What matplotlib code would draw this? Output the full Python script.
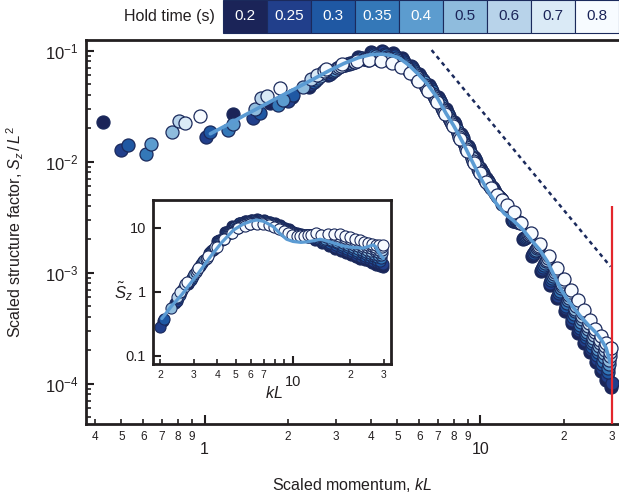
import numpy as np
import matplotlib
matplotlib.use("Agg")
import matplotlib.pyplot as plt
from matplotlib.patches import Rectangle
from matplotlib.ticker import FixedLocator, FixedFormatter, LogLocator, NullFormatter, NullLocator

plt.rcParams.update({
    "font.family": ["Liberation Sans", "DejaVu Sans"],
    "mathtext.fontset": "custom",
    "mathtext.rm": "Liberation Sans",
    "mathtext.it": "Liberation Sans:italic",
    "mathtext.bf": "Liberation Sans:bold",
})

INK = "#231f20"
NAVY = "#1b2a5c"
CURVE = "#5b9bd3"
RED = "#e3262c"

# ---- hold times and their colours ----
hold_times = ["0.2", "0.25", "0.3", "0.35", "0.4", "0.5", "0.6", "0.7", "0.8"]
hold_colors = ["#1b2458", "#213f8b", "#1f58a3", "#3478b8", "#5c9ccf",
               "#8fbcdd", "#b8d3ea", "#daeaf6", "#f7fbff"]
hold_text_colors = ["#ffffff", "#ffffff", "#ffffff", "#ffffff", "#ffffff",
                    "#1b2458", "#1b2458", "#1b2458", "#1b2458"]

# ---- measured structure factor S_z / L^2 versus kL, one pair per hold time ----
kl_020 = [0.427, 1.27, 1.73, 2.08, 2.4, 2.8, 3.2, 3.6, 4.0, 4.4, 4.8, 5.2, 5.6,
          6.0, 6.5, 7.0, 7.5, 8.0, 8.5, 9.0, 9.5, 10.0, 10.5, 11.0, 11.5, 12.0,
          13.0, 14.2, 15.4, 16.6, 17.8, 19.0, 20.2, 21.4, 22.6, 23.8, 25.0, 26.2, 27.4, 28.6, 29.8]
sz_020 = [0.0229, 0.0268, 0.0335, 0.0385, 0.0473, 0.0603, 0.0741, 0.0871, 0.0977, 0.100, 0.0955, 0.0851, 0.0733,
          0.0617, 0.0490, 0.0380, 0.0295, 0.0229, 0.0178, 0.0138, 0.0110, 0.00871, 0.00708, 0.00589, 0.00490, 0.00417,
          0.00295, 0.00200, 0.00142, 0.00103, 0.000776, 0.000589, 0.000449, 0.000353, 0.000283, 0.000231,
          0.000191, 0.000157, 0.000129, 0.000108, 0.0000933]

kl_025 = [0.50, 1.01, 1.50, 2.0, 2.44, 2.84, 3.24, 3.64, 4.04, 4.44, 4.84, 5.24, 5.64,
          6.06, 6.56, 7.06, 7.56, 8.06, 8.56, 9.06, 9.56, 10.06, 10.56, 11.06, 11.56, 12.06,
          13.13, 14.33, 15.53, 16.73, 17.93, 19.13, 20.33, 21.53, 22.73, 23.93, 25.13, 26.33, 27.53, 28.73, 29.9]
sz_025 = [0.0127, 0.0167, 0.0245, 0.035, 0.0495, 0.0619, 0.0748, 0.0865, 0.0953, 0.0968, 0.0920, 0.0818, 0.0705,
          0.0589, 0.0468, 0.0364, 0.0282, 0.0219, 0.0170, 0.0132, 0.0105, 0.00841, 0.00689, 0.00578, 0.00485, 0.00415,
          0.00293, 0.00203, 0.00146, 0.00107, 0.000811, 0.000619, 0.000475, 0.000374, 0.000301, 0.000245,
          0.000203, 0.000168, 0.000139, 0.000117, 0.000102]

kl_030 = [0.529, 1.05, 1.585, 2.10, 2.49, 2.89, 3.29, 3.69, 4.09, 4.49, 4.89, 5.29, 5.69,
          6.11, 6.61, 7.11, 7.61, 8.11, 8.61, 9.11, 9.61, 10.11, 10.61, 11.11, 11.61, 12.11,
          13.27, 14.47, 15.67, 16.87, 18.07, 19.27, 20.47, 21.67, 22.87, 24.07, 25.27, 26.47, 27.67, 28.87]
sz_030 = [0.0141, 0.0186, 0.0272, 0.0398, 0.0519, 0.0637, 0.0755, 0.0857, 0.0929, 0.0938, 0.0887, 0.0789, 0.0678,
          0.0564, 0.0449, 0.0348, 0.0270, 0.0209, 0.0163, 0.0127, 0.0101, 0.00813, 0.00671, 0.00566, 0.00481, 0.00414,
          0.00291, 0.00206, 0.00151, 0.00112, 0.000849, 0.000650, 0.000502, 0.000397, 0.000319, 0.000261,
          0.000215, 0.000179, 0.000150, 0.000127]

kl_035 = [0.614, 1.22, 1.85, 2.53, 2.93, 3.33, 3.73, 4.13, 4.53, 4.93, 5.33, 5.73,
          6.17, 6.67, 7.17, 7.67, 8.17, 8.67, 9.17, 9.67, 10.17, 10.67, 11.17, 11.67, 12.17,
          13.4, 14.6, 15.8, 17.0, 18.2, 19.4, 20.6, 21.8, 23.0, 24.2, 25.4, 26.6, 27.8, 29.0]
sz_035 = [0.0117, 0.0192, 0.0323, 0.0543, 0.0655, 0.0762, 0.0851, 0.0906, 0.0908, 0.0855, 0.0759, 0.0650,
          0.0540, 0.0429, 0.0334, 0.0258, 0.0200, 0.0155, 0.0121, 0.00968, 0.00785, 0.00653, 0.00556, 0.00475, 0.00412,
          0.00289, 0.00209, 0.00155, 0.00116, 0.000889, 0.000684, 0.000531, 0.000422, 0.000339, 0.000277,
          0.000230, 0.000191, 0.000161, 0.000138]

kl_040 = [0.638, 1.27, 1.93, 2.58, 2.98, 3.38, 3.78, 4.18, 4.58, 4.98, 5.38, 5.78,
          6.22, 6.72, 7.22, 7.72, 8.22, 8.72, 9.22, 9.72, 10.22, 10.72, 11.22, 11.72, 12.22,
          13.53, 14.73, 15.93, 17.13, 18.33, 19.53, 20.73, 21.93, 23.13, 24.33, 25.53, 26.73, 27.93, 29.13]
sz_040 = [0.0144, 0.0216, 0.0362, 0.0569, 0.0673, 0.0769, 0.0845, 0.0885, 0.0879, 0.0822, 0.0730, 0.0625,
          0.0516, 0.0410, 0.0320, 0.0247, 0.0191, 0.0148, 0.0116, 0.00929, 0.00757, 0.00637, 0.00545, 0.00471, 0.00410,
          0.00288, 0.00212, 0.00160, 0.00121, 0.000929, 0.000719, 0.000562, 0.000447, 0.000360, 0.000294,
          0.000244, 0.000205, 0.000174, 0.000150]

kl_050 = [0.76, 1.52, 2.28, 2.62, 3.02, 3.42, 3.82, 4.22, 4.62, 5.02, 5.42, 5.82,
          6.28, 6.78, 7.28, 7.78, 8.28, 8.78, 9.28, 9.78, 10.28, 10.78, 11.28, 11.78, 12.28,
          13.67, 14.87, 16.07, 17.27, 18.47, 19.67, 20.87, 22.07, 23.27, 24.47, 25.67, 26.87, 28.07, 29.27]
sz_050 = [0.0186, 0.0300, 0.047, 0.0596, 0.0692, 0.0776, 0.0838, 0.0863, 0.0851, 0.0793, 0.0703, 0.0601,
          0.0493, 0.0393, 0.0306, 0.0236, 0.0182, 0.0142, 0.0111, 0.00891, 0.00731, 0.00619, 0.00535, 0.00467, 0.00409,
          0.00286, 0.00216, 0.00165, 0.00126, 0.000973, 0.000757, 0.000594, 0.000474, 0.000382, 0.000311,
          0.000259, 0.000219, 0.000187, 0.000163]

kl_060 = [0.81, 1.6, 2.44, 2.67, 3.07, 3.47, 3.87, 4.27, 4.67, 5.07, 5.47, 5.87,
          6.33, 6.83, 7.33, 7.83, 8.33, 8.83, 9.33, 9.83, 10.33, 10.83, 11.33, 11.83, 12.33,
          13.8, 15.0, 16.2, 17.4, 18.6, 19.8, 21.0, 22.2, 23.4, 24.6, 25.8, 27.0, 28.2, 29.4]
sz_060 = [0.0232, 0.037, 0.056, 0.0624, 0.0713, 0.0783, 0.0832, 0.0841, 0.0824, 0.0764, 0.0676, 0.0578,
          0.0472, 0.0376, 0.0293, 0.0226, 0.0175, 0.0136, 0.0107, 0.00855, 0.00706, 0.00604, 0.00524, 0.00462, 0.00407,
          0.00284, 0.00219, 0.00170, 0.00131, 0.00102, 0.000794, 0.000628, 0.000502, 0.000406, 0.000330,
          0.000276, 0.000233, 0.000201, 0.000176]

kl_070 = [0.85, 1.69, 2.55, 2.71, 3.11, 3.51, 3.91, 4.31, 4.71, 5.11, 5.51, 5.91,
          6.39, 6.89, 7.39, 7.89, 8.39, 8.89, 9.39, 9.89, 10.39, 10.89, 11.39, 11.89, 12.39,
          13.93, 15.13, 16.33, 17.53, 18.73, 19.93, 21.13, 22.33, 23.53, 24.73, 25.93, 27.13, 28.33, 29.53]
sz_070 = [0.0221, 0.0389, 0.060, 0.0653, 0.0733, 0.0791, 0.0826, 0.0820, 0.0798, 0.0736, 0.0650, 0.0556,
          0.0452, 0.0360, 0.0281, 0.0216, 0.0167, 0.0129, 0.0102, 0.00820, 0.00682, 0.00588, 0.00514, 0.00458, 0.00406,
          0.00282, 0.00222, 0.00175, 0.00136, 0.00106, 0.000836, 0.000665, 0.000533, 0.000431, 0.000351,
          0.000294, 0.000249, 0.000217, 0.000191]

kl_080 = [0.96, 1.88, 2.76, 3.16, 3.56, 3.96, 4.36, 4.76, 5.16, 5.56, 5.96,
          6.44, 6.94, 7.44, 7.94, 8.44, 8.94, 9.44, 9.94, 10.44, 10.94, 11.44, 11.94, 12.44,
          13.25, 14.07, 15.27, 16.47, 17.67, 18.87, 20.07, 21.27, 22.47, 23.67, 24.87, 26.07, 27.27, 28.47, 29.67]
sz_080 = [0.0259, 0.046, 0.0684, 0.0753, 0.0800, 0.0818, 0.0802, 0.0773, 0.0710, 0.0627, 0.0533,
          0.0433, 0.0344, 0.0269, 0.0207, 0.0159, 0.0124, 0.00980, 0.00787, 0.00659, 0.00573, 0.00504, 0.00454, 0.00405,
          0.00352, 0.00280, 0.00226, 0.00181, 0.00142, 0.00111, 0.000879, 0.000703, 0.000566, 0.000457, 0.000372,
          0.000313, 0.000267, 0.000233, 0.000207]

series = [(kl_020, sz_020), (kl_025, sz_025), (kl_030, sz_030), (kl_035, sz_035), (kl_040, sz_040),
          (kl_050, sz_050), (kl_060, sz_060), (kl_070, sz_070), (kl_080, sz_080)]

# ---- theory curve, main panel ----
theory_kl = [1.05, 1.2, 1.4, 1.6, 1.8, 2.0, 2.4, 2.8, 3.2, 3.6, 4.0, 4.4, 4.8, 5.1, 5.5, 6.0, 6.4,
             7.0, 7.5, 8.0, 8.66, 9.3, 9.95, 10.6, 11.4, 12.2, 13.1, 14.3, 15.3, 16.4, 17.5, 18.8,
             19.6, 20.4, 21.5, 22.9, 24.5, 26.3, 27.5, 28.5, 29.0, 29.5]
theory_sz = [0.0178, 0.0212, 0.0262, 0.0312, 0.0365, 0.0418, 0.0530, 0.0650, 0.0765, 0.0860, 0.0920, 0.0930,
             0.0900, 0.0850, 0.0740, 0.0600, 0.0505, 0.0370, 0.0272, 0.0210, 0.0146, 0.0102, 0.0073, 0.0055,
             0.0042, 0.0034, 0.00297, 0.00241, 0.00195, 0.00160, 0.00125, 0.00086, 0.00070, 0.00060, 0.00050,
             0.00041, 0.00034, 0.000285, 0.000245, 0.000210, 0.000180, 0.000155]

# ---- theory curve, compensated (inset) ----
comp_theory_kl = [2.04, 2.3, 2.6, 2.8, 3.2, 3.67, 4.2, 4.86, 5.5, 6.0, 6.44, 7.0, 7.87, 8.5, 9.26, 10.0,
                  11.0, 11.8, 13.0, 13.9, 14.8, 15.7, 17.5, 19.2, 21.0, 23.4, 25.0, 26.5, 27.3, 28.1, 29.9]
comp_theory_s = [0.38, 0.60, 0.90, 1.2, 2.0, 3.5, 5.8, 9.2, 11.5, 12.6, 13.2, 12.6, 10.4, 8.2, 6.6, 6.1,
                 5.9, 6.0, 6.3, 6.6, 6.3, 6.0, 5.4, 5.04, 4.9, 4.8, 5.1, 5.4, 5.0, 4.2, 3.3]

# ---- k^-3 guide and resolution cutoff ----
guide_kl = [6.65, 29.6]
guide_sz = [0.101, 0.00113]
cutoff_kl = 30.0
cutoff_top = 4.0e-3

# ---- tick positions and labels ----
main_major_x = [1, 10]
main_major_x_labels = ["1", "10"]
main_minor_x = [0.4, 0.5, 0.6, 0.7, 0.8, 0.9, 2, 3, 4, 5, 6, 7, 8, 9, 20, 30]
main_minor_x_labels = ["4", "5", "6", "7", "8", "9", "2", "3", "4", "5", "6", "7", "8", "9", "2", "3"]
main_major_y = [1e-4, 1e-3, 1e-2, 1e-1]
main_major_y_labels = [r"$10^{-4}$", r"$10^{-3}$", r"$10^{-2}$", r"$10^{-1}$"]
inset_major_x = [10]
inset_major_x_labels = ["10"]
inset_minor_x = [2, 3, 4, 5, 6, 7, 8, 9, 20, 30]
inset_minor_x_labels = ["2", "3", "4", "5", "6", "7", "", "", "2", "3"]
inset_major_y = [0.1, 1, 10]
inset_major_y_labels = ["0.1", "1", "10"]

fig = plt.figure(figsize=(6.19, 5.0), dpi=100)

# ================= main panel =================
ax = fig.add_axes([0.1384, 0.152, 0.86, 0.768])
ax.set_xscale("log")
ax.set_yscale("log")
ax.set_xlim(0.371, 31.5)
ax.set_ylim(4.32e-5, 0.1245)

for (kl, sz), col in zip(series, hold_colors):
    ax.plot(kl, sz, linestyle="none", marker="o", markersize=9.4,
            markerfacecolor=col, markeredgecolor=NAVY, markeredgewidth=0.9, zorder=2)

ax.plot(theory_kl, theory_sz, color=CURVE, lw=2.6, solid_capstyle="round", zorder=3)
ax.plot(guide_kl, guide_sz, color=NAVY, lw=1.8, linestyle=(0, (1.6, 1.6)), zorder=3)
ax.vlines(cutoff_kl, 1e-6, cutoff_top, color=RED, lw=1.6, zorder=4)

for side in ["top", "left", "bottom"]:
    ax.spines[side].set_linewidth(2.0)
    ax.spines[side].set_color(INK)
ax.spines["right"].set_visible(False)

ax.xaxis.set_major_locator(FixedLocator(main_major_x))
ax.xaxis.set_major_formatter(FixedFormatter(main_major_x_labels))
ax.xaxis.set_minor_locator(FixedLocator(main_minor_x))
ax.xaxis.set_minor_formatter(FixedFormatter(main_minor_x_labels))
ax.yaxis.set_major_locator(FixedLocator(main_major_y))
ax.yaxis.set_major_formatter(FixedFormatter(main_major_y_labels))
ax.yaxis.set_minor_locator(LogLocator(base=10, subs=np.arange(2, 10)))
ax.yaxis.set_minor_formatter(NullFormatter())

ax.tick_params(axis="x", which="major", direction="in", length=6.5, width=1.5,
               labelsize=11.5, pad=13, colors=INK, top=False)
ax.tick_params(axis="x", which="minor", direction="in", length=3.5, width=1.2,
               labelsize=8.5, pad=5, colors=INK, top=False)
ax.tick_params(axis="y", which="major", direction="in", length=6, width=1.5,
               labelsize=12, pad=5, colors=INK, right=False)
ax.tick_params(axis="y", which="minor", direction="in", length=3.5, width=1.2,
               colors=INK, right=False)

ax.set_xlabel(r"Scaled momentum, $kL$", fontsize=11.5, color=INK)
ax.xaxis.set_label_coords(0.5, -0.135)
ax.set_ylabel(r"Scaled structure factor, $S_z\,/\,L^2$", fontsize=11.5, color=INK)
ax.yaxis.set_label_coords(-0.112, 0.5)

# ================= inset: compensated spectrum =================
axi = fig.add_axes([0.2467, 0.272, 0.385, 0.328])
axi.set_xscale("log")
axi.set_yscale("log")
axi.set_xlim(1.827, 32.8)
axi.set_ylim(0.0741, 27.1)

for (kl, sz), col in zip(series, hold_colors):
    kl_a = np.asarray(kl)
    sz_a = np.asarray(sz)
    keep = kl_a >= 2.0
    axi.plot(kl_a[keep], sz_a[keep] * kl_a[keep] ** 3, linestyle="none", marker="o",
             markersize=8.0, markerfacecolor=col, markeredgecolor=NAVY,
             markeredgewidth=0.8, zorder=2)

axi.plot(comp_theory_kl, comp_theory_s, color=CURVE, lw=2.3, solid_capstyle="round", zorder=3)

for side in ["top", "left", "bottom", "right"]:
    axi.spines[side].set_linewidth(2.0)
    axi.spines[side].set_color(INK)

axi.xaxis.set_major_locator(FixedLocator(inset_major_x))
axi.xaxis.set_major_formatter(FixedFormatter(inset_major_x_labels))
axi.xaxis.set_minor_locator(FixedLocator(inset_minor_x))
axi.xaxis.set_minor_formatter(FixedFormatter(inset_minor_x_labels))
axi.yaxis.set_major_locator(FixedLocator(inset_major_y))
axi.yaxis.set_major_formatter(FixedFormatter(inset_major_y_labels))
axi.yaxis.set_minor_locator(NullLocator())

axi.tick_params(axis="x", which="major", direction="in", length=6, width=1.5,
                labelsize=10.5, pad=8, colors=INK, top=False)
axi.tick_params(axis="x", which="minor", direction="in", length=3.5, width=1.2,
                labelsize=7.5, pad=4, colors=INK, top=False)
axi.tick_params(axis="y", which="major", direction="in", length=6, width=1.5,
                labelsize=10.5, pad=5, colors=INK, right=False)

axi.text(0.51, -0.175, r"$kL$", transform=axi.transAxes, ha="center", va="center",
         fontsize=11.5, color=INK)
axi.text(-0.085, 0.44, r"$\tilde{S}_z$", transform=axi.transAxes, ha="right", va="center",
         fontsize=12, color=INK)

# ================= hold-time colour key =================
axk = fig.add_axes([222.7 / 619, 1 - 33 / 500, (619 - 222.7) / 619, 33 / 500])
axk.set_xlim(0, len(hold_times))
axk.set_ylim(0, 1)
axk.axis("off")
for i, (lab, col, tcol) in enumerate(zip(hold_times, hold_colors, hold_text_colors)):
    axk.add_patch(Rectangle((i, 0), 1, 1, facecolor=col, edgecolor=NAVY, lw=0.8, clip_on=False))
    axk.text(i + 0.5, 0.5, lab, ha="center", va="center", color=tcol, fontsize=11)
fig.text(215 / 619, 1 - 16.5 / 500, "Hold time (s)", ha="right", va="center",
         fontsize=11.5, color=INK)

fig.savefig("out.png", dpi=100)
